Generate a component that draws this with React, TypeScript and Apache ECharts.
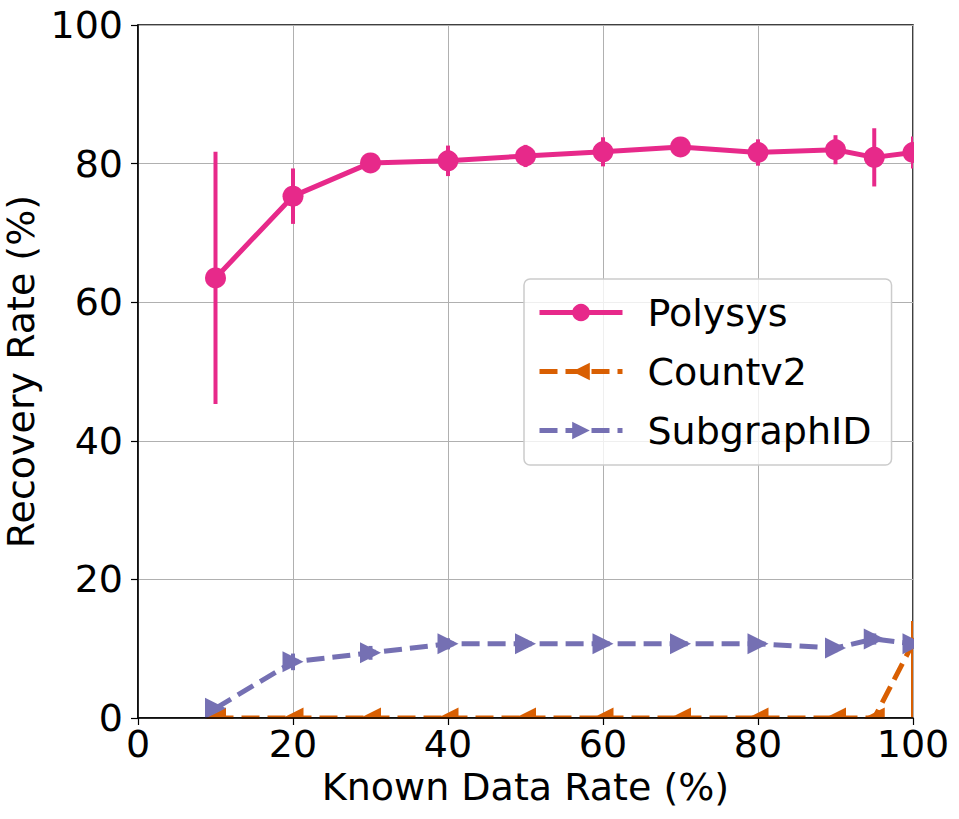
import React, { useEffect, useRef } from "react";
import * as echarts from "echarts";

const knownRates = [10, 20, 30, 40, 50, 60, 70, 80, 90, 95, 100];
const polysysMean = [63.5, 75.3, 80.1, 80.4, 81.1, 81.7, 82.4, 81.6, 82.0, 80.9, 81.6];
const polysysErr = [18.2, 4.0, 1.0, 2.2, 1.6, 2.1, 1.3, 1.9, 2.1, 4.2, 2.3];
const countv2Mean = [0, 0, 0, 0, 0, 0, 0, 0, 0, 0, 10.8];
const countv2Low = [0, 0, 0, 0, 0, 0, 0, 0, 0, 0, 0];
const countv2High = [0, 0, 0, 0, 0, 0, 0, 0, 0, 0, 14];
const subgraphMean = [1.4, 8.1, 9.4, 10.7, 10.7, 10.7, 10.7, 10.7, 10.1, 11.4, 10.7];
const subgraphErr = [0.5, 1.2, 1.0, 0.8, 0.6, 0.6, 0.6, 0.6, 0.6, 0.8, 0.6];
const axisTicks = [0, 20, 40, 60, 80, 100];

const COLORS = { polysys: "#e7298a", countv2: "#d95f02", subgraph: "#7570b3" };
const FONT = "DejaVu Sans";
const FS = 38;

function errSeries(name: string, color: string, lows: number[], highs: number[]) {
  return {
    type: "custom",
    name,
    clip: true,
    z: 2,
    silent: true,
    data: knownRates.map((x, i) => [x, lows[i], highs[i]]),
    renderItem: (params: any, api: any) => {
      const p1 = api.coord([api.value(0), api.value(1)]);
      const p2 = api.coord([api.value(0), api.value(2)]);
      return {
        type: "line",
        shape: { x1: p1[0], y1: p1[1], x2: p2[0], y2: p2[1] },
        style: { stroke: color, lineWidth: 4 },
      };
    },
  };
}

export default function App() {
  const ref = useRef<HTMLDivElement>(null);
  useEffect(() => {
    if (!ref.current) return;
    const chart = echarts.init(ref.current, null, { renderer: "svg" });
    const fmt = (v: number) => (axisTicks.includes(v) ? String(v) : "");
    const nameStyle = { color: "#000", fontSize: FS, fontFamily: FONT };
    const base = { type: "value", min: 0, max: 100, interval: 20 };
    chart.setOption({
      animation: false,
      backgroundColor: "#fff",
      grid: {
        left: 138,
        right: 46,
        top: 25,
        bottom: 101,
        containLabel: false,
        outerBoundsMode: "none",
        show: true,
        borderColor: "#000",
        borderWidth: 1.5,
        backgroundColor: "transparent",
      },
      xAxis: [
        {
          ...base,
          position: "bottom",
          z: 0,
          axisLine: { show: false },
          axisTick: { show: false },
          axisLabel: { show: false },
          splitLine: { show: true, lineStyle: { color: "#b0b0b0", width: 1 } },
        },
        {
          ...base,
          position: "bottom",
          z: 10,
          name: "Known Data Rate (%)",
          nameLocation: "middle",
          nameGap: 49,
          nameTextStyle: nameStyle,
          axisLine: { show: true, onZero: false, lineStyle: { color: "#000", width: 1.5 } },
          axisTick: { show: true, inside: false, length: 7, lineStyle: { color: "#000", width: 1.2 } },
          axisLabel: { color: "#000", fontSize: FS, fontFamily: FONT, margin: 7, formatter: fmt },
          splitLine: { show: false },
        },
      ],
      yAxis: [
        {
          ...base,
          position: "left",
          z: 0,
          axisLine: { show: false },
          axisTick: { show: false },
          axisLabel: { show: false },
          splitLine: { show: true, lineStyle: { color: "#b0b0b0", width: 1 } },
        },
        {
          ...base,
          position: "left",
          z: 10,
          name: "Recovery Rate (%)",
          nameLocation: "middle",
          nameGap: 90,
          nameTextStyle: nameStyle,
          axisLine: { show: true, onZero: false, lineStyle: { color: "#000", width: 1.5 } },
          axisTick: { show: true, inside: false, length: 7, lineStyle: { color: "#000", width: 1.2 } },
          axisLabel: { color: "#000", fontSize: FS, fontFamily: FONT, margin: 15, formatter: fmt },
          splitLine: { show: false },
        },
      ],
      graphic: [
        { type: "rect", z: 5, silent: true, shape: { x: 914, y: 0, width: 45, height: 719 }, style: { fill: "#fff" } },
        { type: "rect", z: 5, silent: true, shape: { x: 0, y: 719, width: 959, height: 12 }, style: { fill: "#fff" } },
      ],
      legend: {
        orient: "vertical",
        left: 524,
        top: 279,
        z: 8,
        data: ["Polysys", "Countv2", "SubgraphID"],
        itemWidth: 83,
        itemHeight: 22,
        itemGap: 20,
        padding: [14, 20, 15, 13],
        backgroundColor: "rgba(255,255,255,0.8)",
        borderColor: "#cccccc",
        borderWidth: 1.5,
        borderRadius: 6,
        lineStyle: { width: 5 },
        textStyle: { color: "#000", fontSize: FS, fontFamily: FONT, padding: [0, 0, 0, 20], lineHeight: 39 },
      },
      series: [
        errSeries("polysysErr", COLORS.polysys, polysysMean.map((m, i) => m - polysysErr[i]), polysysMean.map((m, i) => m + polysysErr[i])),
        {
          type: "line",
          name: "Polysys",
          data: knownRates.map((x, i) => [x, polysysMean[i]]),
          symbol: "circle",
          symbolSize: 21,
          lineStyle: { color: COLORS.polysys, width: 5 },
          itemStyle: { color: COLORS.polysys },
          z: 2,
        },
        errSeries("countv2Err", COLORS.countv2, countv2Low, countv2High),
        {
          type: "line",
          name: "Countv2",
          data: knownRates.map((x, i) => [x, countv2Mean[i]]),
          symbol: "triangle",
          symbolRotate: 90,
          symbolSize: 21,
          lineStyle: { color: COLORS.countv2, width: 5, type: [18, 8] },
          itemStyle: { color: COLORS.countv2 },
          z: 3,
        },
        errSeries("subgraphErr", COLORS.subgraph, subgraphMean.map((m, i) => m - subgraphErr[i]), subgraphMean.map((m, i) => m + subgraphErr[i])),
        {
          type: "line",
          name: "SubgraphID",
          data: knownRates.map((x, i) => [x, subgraphMean[i]]),
          symbol: "triangle",
          symbolRotate: -90,
          symbolSize: 21,
          lineStyle: { color: COLORS.subgraph, width: 5, type: [18, 8] },
          itemStyle: { color: COLORS.subgraph },
          z: 4,
        },
      ],
    });
    return () => chart.dispose();
  }, []);
  return <div ref={ref} style={{ width: 959, height: 819, position: "absolute", left: 0, top: 0 }} />;
}
